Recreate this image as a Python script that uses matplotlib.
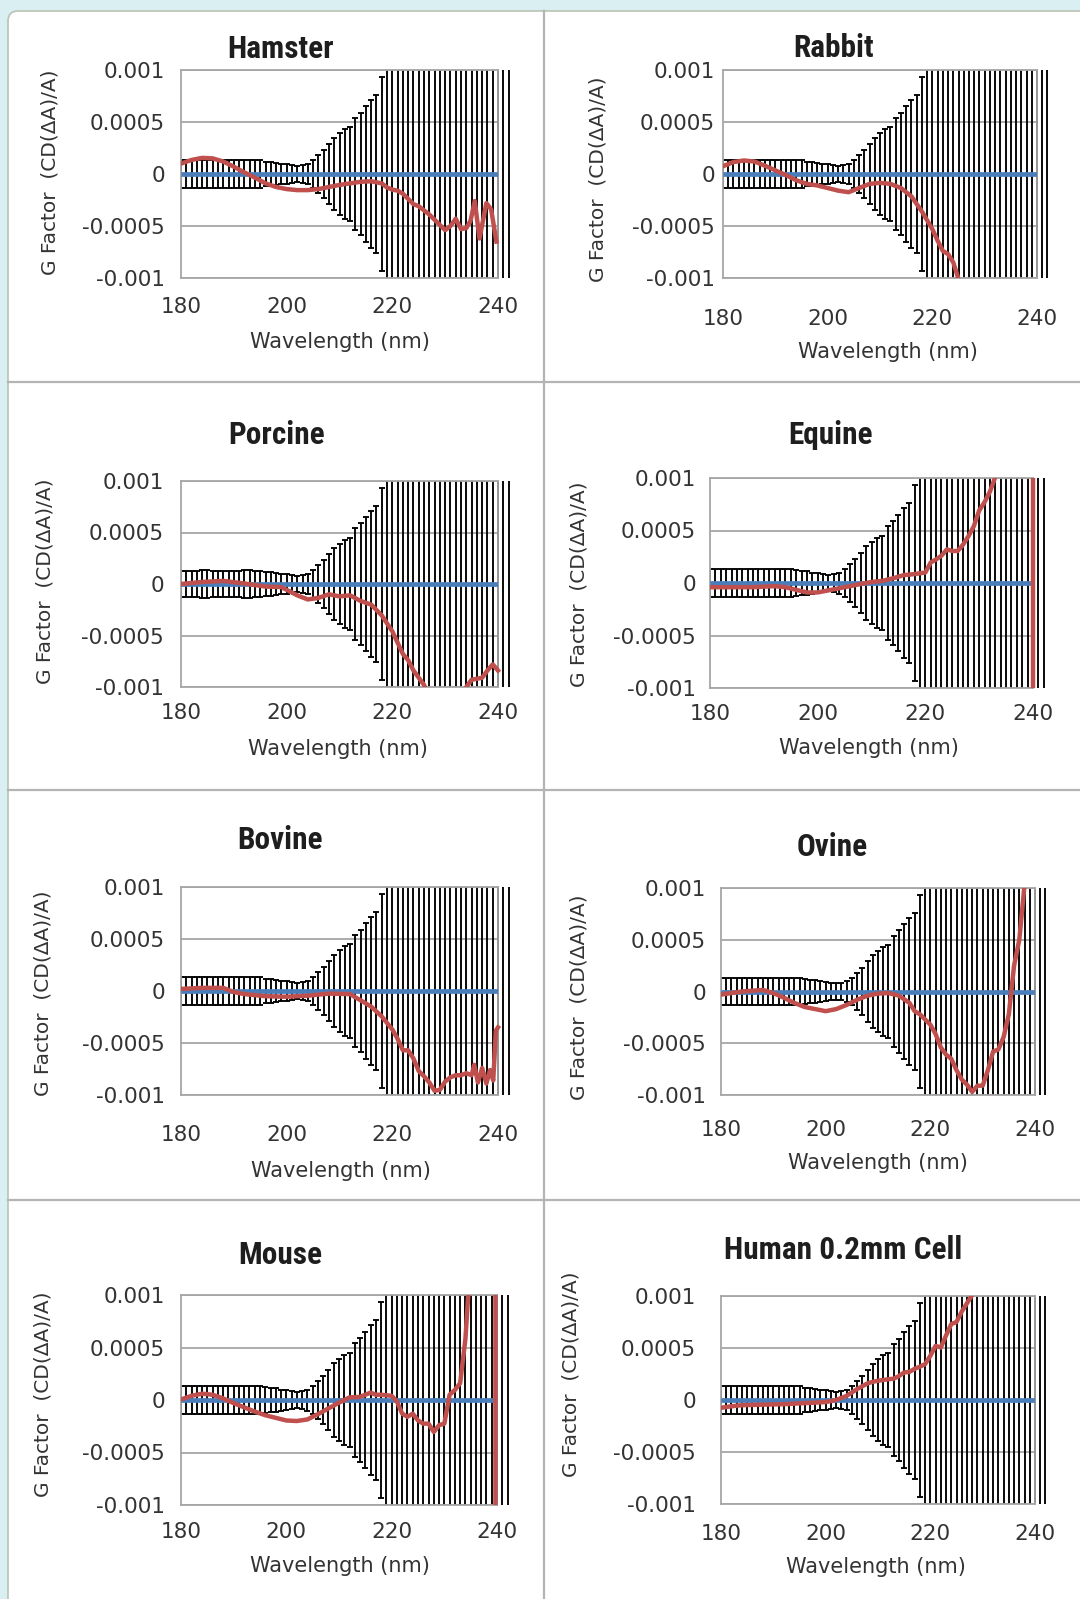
import numpy as np
import matplotlib.pyplot as plt
from matplotlib.patches import Rectangle, FancyBboxPatch
from matplotlib.lines import Line2D

W, H = 1080, 1599
SCALE = 1e-4  # g values below are in units of 1e-4

titles = ['Hamster', 'Rabbit', 'Porcine', 'Equine',
          'Bovine', 'Ovine', 'Mouse', 'Human 0.2mm Cell']

y_ticks = [-0.001, -0.0005, 0, 0.0005, 0.001]
y_ticklabels = ['-0.001', '-0.0005', '0', '0.0005', '0.001']
x_ticks = [180, 200, 220, 240]

# blue reference series (zero line)
base_wl = [180, 240]
base_g = [0, 0]

# error bars (half width, 1e-4) one per nm from 180 to 242
err_wl = list(range(180, 243))
err_half = [1.3, 1.3, 1.3, 1.3, 1.35, 1.35, 1.3, 1.3, 1.3, 1.3,
            1.3, 1.3, 1.35, 1.35, 1.3, 1.3, 1.2, 1.15, 1.1, 1.0,
            0.95, 0.85, 0.8, 0.85, 1.0, 1.35, 1.8, 2.3, 2.9, 3.5,
            3.9, 4.3, 4.5, 5.4, 5.9, 6.5, 7.1, 7.6, 9.3, 25,
            25, 25, 25, 25, 25, 25, 25, 25, 25, 25,
            25, 25, 25, 25, 25, 25, 25, 25, 25, 25,
            25, 25, 25]

# red sample series, g in 1e-4
hamster_wl = [180, 182, 184, 186, 188, 190, 192, 194, 196, 198, 200, 202, 204, 206,
              208, 210, 212, 214, 216, 218, 219, 220, 221, 222, 223, 224, 225, 226,
              227, 228, 229, 230, 231, 232, 233, 234, 234.8, 235.6, 236.5, 237.8,
              238.7, 239.7]
hamster_g = [1.0, 1.35, 1.55, 1.5, 1.2, 0.7, 0.15, -0.35, -0.9, -1.25, -1.45, -1.55,
             -1.55, -1.45, -1.25, -1.05, -0.9, -0.75, -0.7, -0.9, -1.3, -1.5, -1.6,
             -1.9, -2.4, -2.9, -3.1, -3.5, -3.9, -4.4, -4.9, -5.4, -5.0, -4.3, -5.3,
             -5.2, -4.5, -2.6, -6.2, -2.8, -3.4, -6.5]

rabbit_wl = [180, 182, 184, 186, 188, 190, 192, 194, 196, 198, 200, 202, 204, 206,
             208, 210, 212, 214, 216, 218, 220, 221, 222, 223, 224, 225, 226]
rabbit_g = [0.75, 1.15, 1.3, 1.2, 0.8, 0.35, -0.1, -0.6, -0.95, -1.1, -1.35, -1.6,
            -1.75, -1.35, -0.95, -0.85, -0.95, -1.35, -2.15, -3.6, -5.3, -6.4, -7.4,
            -7.7, -8.5, -10.1, -13]

porcine_wl = [180, 184, 188, 192, 196, 199, 202, 204, 206, 208, 210, 212, 214, 216,
              218, 220, 222, 223, 224, 226, 227, 228, 233, 234, 235, 236, 237, 238,
              239, 240]
porcine_g = [0, 0.2, 0.3, 0.05, -0.25, -0.3, -1.1, -1.5, -1.35, -1.0, -1.2, -1.1,
             -1.65, -2.0, -3.05, -4.6, -6.8, -7.4, -8.4, -9.8, -11, -13, -13, -10,
             -9.3, -9.2, -9.1, -8.4, -7.8, -8.4]

equine_wl = [180, 184, 188, 192, 194, 196, 198, 200, 202, 204, 206, 208, 210, 212,
             214, 216, 218, 220, 221, 222, 223, 224, 225, 226, 227, 228, 229, 230,
             231, 232, 233, 234, 235, 240, 240]
equine_g = [-0.4, -0.4, -0.4, -0.3, -0.4, -0.65, -0.9, -0.9, -0.7, -0.5, -0.3, -0.1,
            0.1, 0.2, 0.45, 0.75, 0.85, 1.0, 1.95, 2.25, 2.6, 3.2, 3.05, 3.05, 3.65,
            4.45, 5.4, 6.9, 7.7, 8.7, 10.1, 12, 14, 14, -14]

bovine_wl = [180, 184, 188, 190, 192, 196, 200, 204, 208, 212, 214, 216, 218, 220,
             221, 222, 223, 224, 225, 226, 227, 228, 229, 230, 231, 232, 233, 234,
             235, 235.5, 236.2, 237, 237.8, 238.5, 239.1, 239.6, 240]
bovine_g = [0.2, 0.3, 0.3, -0.1, -0.3, -0.5, -0.55, -0.45, -0.25, -0.3, -0.9, -1.5,
            -2.45, -3.7, -4.6, -5.7, -5.7, -6.5, -7.7, -8.2, -8.8, -9.6, -9.5, -8.7,
            -8.3, -8.1, -8.1, -7.9, -8.1, -7.1, -8.8, -7.4, -8.9, -7.6, -8.6, -3.8,
            -3.5]

ovine_wl = [180, 184, 188, 190, 192, 194, 196, 198, 200, 202, 204, 206, 208, 210,
            212, 214, 216, 217, 218, 219, 220, 221, 222, 223, 224, 225, 226, 227,
            228, 229, 230, 231, 232, 233, 234, 235, 236, 237, 238, 239]
ovine_g = [-0.3, 0, 0.15, -0.15, -0.6, -1.1, -1.5, -1.7, -1.9, -1.7, -1.3, -0.8,
           -0.4, -0.2, -0.15, -0.4, -1.1, -1.9, -2.2, -2.7, -3.2, -4.1, -5.4, -6.1,
           -6.5, -7.6, -8.5, -9.0, -9.7, -9.1, -9.1, -7.6, -5.8, -5.6, -4.4, -2.2,
           2.5, 5.0, 10.3, 14]

mouse_wl = [180, 182, 184, 186, 188, 190, 192, 194, 196, 198, 200, 202, 204, 206,
            208, 210, 212, 214, 216, 217, 218, 220, 221, 222, 223, 224, 225, 226,
            227, 228, 229, 230, 231, 232, 233, 234, 234.5, 235, 239.7, 239.7]
mouse_g = [0.05, 0.4, 0.6, 0.5, 0.15, -0.3, -0.7, -1.1, -1.45, -1.7, -1.95, -2.0,
           -1.85, -1.35, -0.8, -0.25, 0.25, 0.3, 0.7, 0.5, 0.5, 0.4, -0.15, -1.3,
           -1.6, -1.3, -1.95, -2.25, -2.25, -3.05, -2.4, -2.25, 0.5, 0.95, 1.6, 5.8,
           9.7, 12, 14, -14]

human_wl = [180, 182, 184, 188, 192, 196, 200, 202, 204, 206, 208, 209, 210, 212,
            213, 214, 215, 216, 217, 218, 219, 220, 221, 222, 223, 224, 225, 226,
            227, 228, 229, 231]
human_g = [-0.75, -0.6, -0.5, -0.45, -0.4, -0.3, -0.2, 0, 0.4, 1.05, 1.6, 1.75,
           1.85, 2.0, 2.05, 2.3, 2.65, 2.7, 3.0, 3.2, 3.45, 4.25, 5.2, 5.05, 6.2,
           7.3, 7.5, 8.5, 9.3, 10.1, 11.5, 14]

red_series = [(hamster_wl, hamster_g), (rabbit_wl, rabbit_g),
              (porcine_wl, porcine_g), (equine_wl, equine_g),
              (bovine_wl, bovine_g), (ovine_wl, ovine_g),
              (mouse_wl, mouse_g), (human_wl, human_g)]

# layout in pixels: axes box (left, right, top, bottom)
boxes = [(181, 498, 70, 278), (723, 1037, 70, 278),
         (181, 498, 481, 687), (710, 1033, 478, 688),
         (181, 498, 887, 1095), (721, 1035, 888, 1095),
         (181, 497, 1295, 1505), (721, 1035, 1296, 1504)]
ytick_pad = [16, 8, 17, 14, 16, 15, 16, 25]
xtick_off = [27, 39, 24, 24, 38, 33, 25, 28]
title_xy = [(281, 58.5), (834, 57), (277, 443.5), (830, 444.5),
            (280, 849.5), (832, 856.5), (280, 1263.5), (843, 1259)]
ylabel_xy = [(50, 172), (598, 179), (45, 581), (579, 584),
             (43, 993), (579, 997), (43, 1394), (571, 1374)]
xlabel_xy = [(340, 342), (888, 352), (338, 749), (869, 748.5),
             (341, 1171), (878, 1163), (340, 1566), (876, 1567)]

BLUE = '#4a7ebb'
RED = '#c0504d'
GRID = '#a6a6a6'
TXT = '#333333'
title_font = ['Liberation Sans Narrow', 'Roboto Condensed', 'DejaVu Sans']
plt.rcParams['font.family'] = ['DejaVu Sans']

fig = plt.figure(figsize=(W / 100, H / 100), dpi=100)
fig.patch.set_facecolor('#d9eff1')


def fx(px):
    return px / W


def fy(py):
    return 1 - py / H


card = FancyBboxPatch((0.08, -0.3), 11.2, (H - 11) / 100 + 0.3,
                      boxstyle='round,pad=0,rounding_size=0.1',
                      transform=fig.dpi_scale_trans, facecolor='white',
                      edgecolor='#b9c3b6', linewidth=1.2, zorder=0)
fig.add_artist(card)
fig.add_artist(Line2D([fx(544), fx(544)], [fy(11), 0], color='#b4b4b4', lw=1.6,
                      transform=fig.transFigure))
for yy in [382, 790, 1200]:
    fig.add_artist(Line2D([fx(8), 1], [fy(yy), fy(yy)], color='#b4b4b4', lw=1.6,
                          transform=fig.transFigure))

for i in range(8):
    l, r, t, b = boxes[i]
    ax = fig.add_axes([fx(l), fy(b), (r - l) / W, (b - t) / H])
    ax.set_facecolor('white')
    ax.set_xlim(180, 240)
    ax.set_ylim(-0.001, 0.001)
    ax.set_yticks(y_ticks)
    ax.set_yticklabels(y_ticklabels)
    ax.set_xticks(x_ticks)
    ax.set_axisbelow(True)
    ax.yaxis.grid(True, color=GRID, lw=1.3)
    for s in ax.spines.values():
        s.set_color(GRID)
        s.set_linewidth(1.3)
    ax.tick_params(axis='y', length=0, pad=ytick_pad[i] * 0.72, labelsize=15.5,
                   labelcolor=TXT)
    ax.tick_params(axis='x', length=0, pad=(xtick_off[i] - 8) * 0.72, labelsize=15.5,
                   labelcolor=TXT)

    clip = Rectangle((0, 0), 1.045, 1, transform=ax.transAxes)
    eb = ax.errorbar(err_wl, np.zeros(len(err_wl)), yerr=np.array(err_half) * SCALE,
                     fmt='none', ecolor='black', elinewidth=1.35, capsize=2.2,
                     capthick=1.35, zorder=2)
    for part in eb.lines[1] + eb.lines[2]:
        part.set_clip_path(clip)
    ax.plot(base_wl, base_g, color=BLUE, lw=3.4, zorder=3, solid_capstyle='butt')
    wl, g = red_series[i]
    red, = ax.plot(wl, np.array(g) * SCALE, color=RED, lw=3.2, zorder=4)
    red.set_clip_path(clip)

    tx, ty = title_xy[i]
    fig.text(fx(tx), fy(ty), titles[i], ha='center', va='baseline', fontsize=22.5,
             fontweight='bold', family=title_font, color='#1e1e1e')
    lx, ly = ylabel_xy[i]
    fig.text(fx(lx), fy(ly), 'G Factor  (CD(\u0394A)/A)', rotation=90, ha='center',
             va='center', fontsize=14.5, color=TXT)
    xx, xy = xlabel_xy[i]
    fig.text(fx(xx), fy(xy), 'Wavelength (nm)', ha='center', va='center',
             fontsize=15, color=TXT)

fig.savefig('out.png', dpi=100, facecolor=fig.get_facecolor())
